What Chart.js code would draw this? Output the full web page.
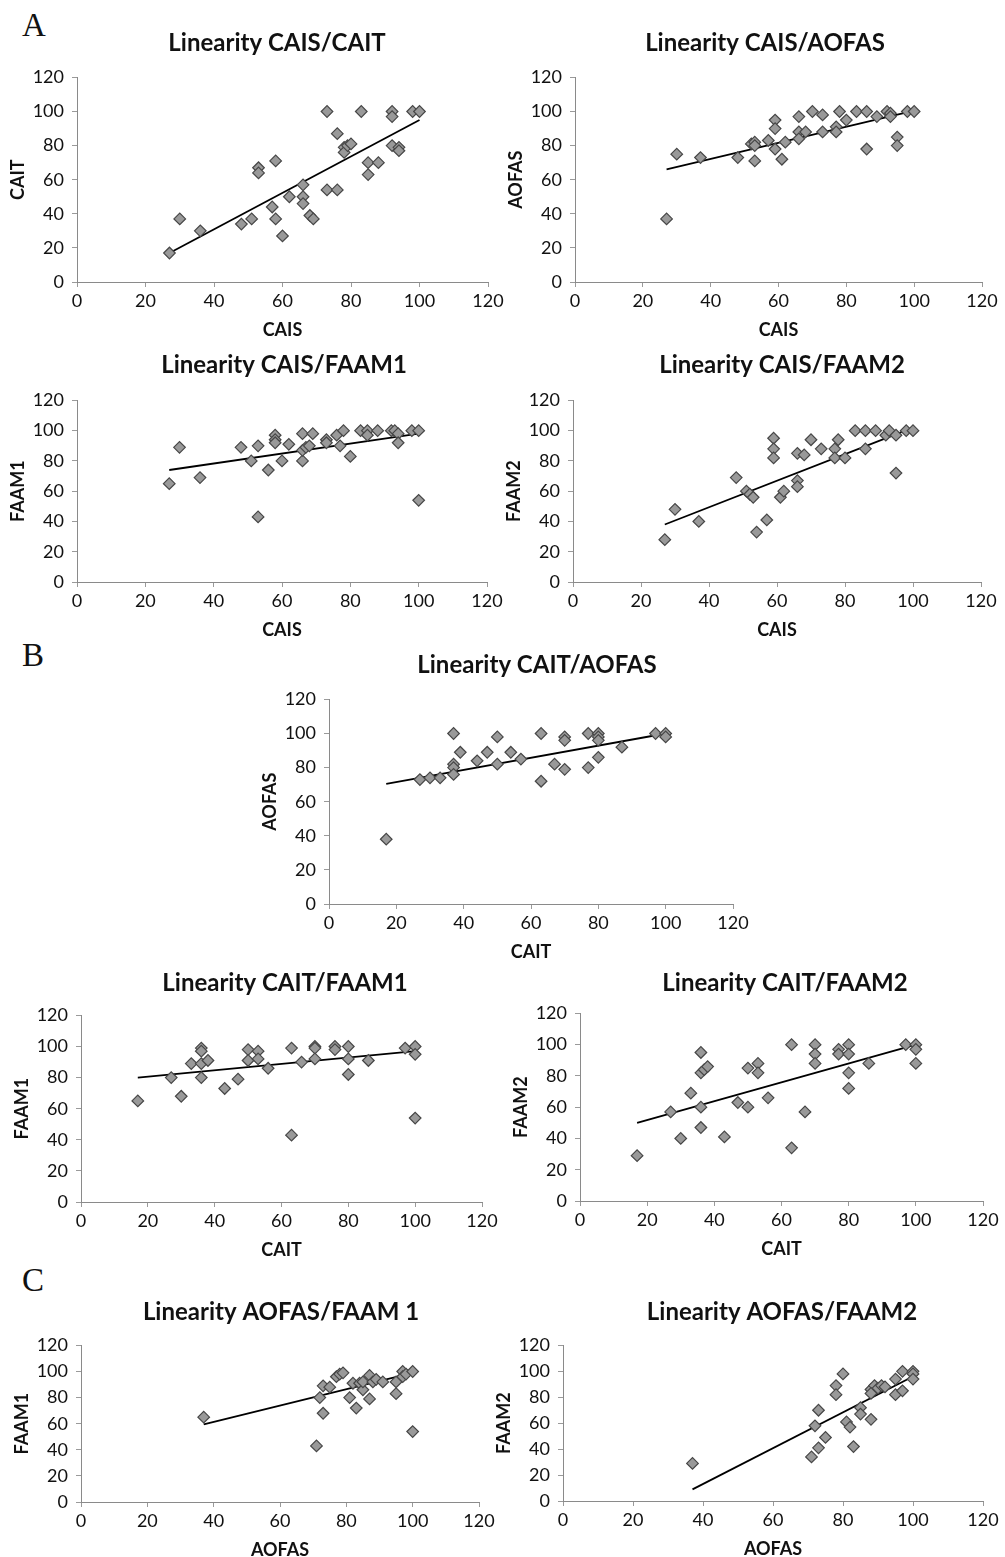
<!DOCTYPE html>
<html>
<head>
<meta charset="utf-8">
<script src="https://cdn.jsdelivr.net/npm/chart.js@4.4.0/dist/chart.umd.min.js"></script>
<style>
  html, body { margin: 0; padding: 0; background: #fff; overflow: hidden; }
  #page { position: relative; width: 1005px; height: 1557px; }
  .box { position: absolute; }
  .panel { position: absolute; left: 22px; font-family: "Liberation Serif", serif; font-size: 33px; line-height: 1; color: #111; }
</style>
</head>
<body>
<div id="page">
  <div class="panel" style="top:9px">A</div>
  <div class="panel" style="top:639px">B</div>
  <div class="panel" style="top:1264px">C</div>
</div>
<script>
// ---- valores (A: CAIS x outros) ----
const a1_cais = [27,30,36,48,51,53,53,58,57,58,60,62,66,66,66,68,69,73,73,76,76,78,78,79,80,83,85,85,88,92,92,92,94,94,98,100];
const a1_cait = [17,37,30,34,37,67,64,71,44,37,27,50,57,50,46,39,37,100,54,54,87,79,76,80,81,100,70,63,70,100,97,80,79,77,100,100];
const a1_fitX = [27, 100];
const a1_fitY = [17, 95];

const a2_cais  = [27,30,37,48,52,53,53,53,57,59,59,59,61,62,66,66,66,68,70,73,73,77,77,78,80,83,86,86,89,92,93,93,95,95,98,100];
const a2_aofas = [37,75,73,73,81,82,80,71,83,95,90,78,72,82,97,88,84,88,100,98,88,91,88,100,95,100,100,78,97,100,99,97,85,80,100,100];
const a2_fitX = [27, 100];
const a2_fitY = [66, 100.5];

const a3_cais  = [27,30,36,48,51,53,53,56,58,58,58,60,62,66,66,66,67,68,69,73,73,76,77,78,80,83,85,85,88,92,93,94,94,98,100,100];
const a3_faam1 = [65,89,69,89,80,90,43,74,97,94,92,80,91,98,80,87,89,90,98,94,92,97,90,100,83,100,100,97,100,100,100,98,92,100,100,54];
const a3_fitX = [27, 100];
const a3_fitY = [74, 98];

const a4_cais  = [27,30,37,48,51,52,53,54,57,59,59,59,61,62,66,68,66,66,70,73,77,77,78,80,83,86,86,89,92,93,95,95,98,100];
const a4_faam2 = [28,48,40,69,60,58,56,33,41,95,88,82,56,60,85,84,67,63,94,88,88,82,94,82,100,100,88,100,97,100,97,72,100,100];
const a4_fitX = [27, 100];
const a4_fitY = [38, 102];

// ---- B: CAIT x outros ----
const b1_cait  = [17,27,30,33,37,37,37,37,39,44,47,50,50,54,57,63,63,67,70,70,70,77,77,80,80,80,80,87,97,100,100];
const b1_aofas = [38,73,74,74,100,82,80,76,89,84,89,98,82,89,85,100,72,82,98,96,79,100,80,100,98,96,86,92,100,100,98];
const b1_fitX = [17, 100];
const b1_fitY = [70.5, 100];

const b2_cait  = [17,27,30,33,36,36,36,36,38,43,47,50,50,53,53,56,63,63,66,70,70,70,76,76,80,80,80,86,97,100,100,100];
const b2_faam1 = [65,80,68,89,99,97,89,80,91,73,79,98,91,97,92,86,99,43,90,100,99,92,100,98,100,92,82,91,99,100,95,54];
const b2_fitX = [17, 100];
const b2_fitY = [80, 97];

const b3_cait  = [17,27,30,33,36,36,37,38,36,36,43,47,50,50,53,53,56,63,63,67,70,70,70,77,77,80,80,80,80,86,97,100,100,100];
const b3_faam2 = [29,57,40,69,95,82,84,86,60,47,41,63,85,60,88,82,66,100,34,57,100,94,88,97,94,100,94,82,72,88,100,100,97,88];
const b3_fitX = [17, 100];
const b3_fitY = [50, 100];

// ---- C: AOFAS x FAAM ----
const c1_aofas = [37,71,72,73,73,75,77,78,79,81,82,83,84,85,85,87,87,88,89,91,95,95,97,97,98,100,100];
const c1_faam1 = [65,43,80,68,89,88,96,98,99,80,91,72,91,86,92,79,97,92,94,92,92,83,100,96,98,100,54];
const c1_fitX = [37, 100];
const c1_fitY = [59.5, 99];

const c2_aofas = [37,71,72,73,73,75,78,78,80,81,82,83,85,85,88,88,89,90,91,92,88,95,97,95,97,100,100,100];
const c2_faam2 = [29,34,58,70,41,49,89,82,98,61,57,42,72,67,63,86,89,87,89,88,83,94,100,82,85,100,98,94];
const c2_fitX = [37, 100];
const c2_fitY = [9, 96];

const yTicks = [0, 20, 40, 60, 80, 100, 120];

// posição de cada gráfico na página: área do gráfico e centro do título
const charts = [
  { title: 'Linearity CAIS/CAIT',    xl: 'CAIS',  yl: 'CAIT',  xs: a1_cais,  ys: a1_cait,  fx: a1_fitX, fy: a1_fitY, area: [77, 77, 488, 282],    tx: 277, ty: 43 },
  { title: 'Linearity CAIS/AOFAS',   xl: 'CAIS',  yl: 'AOFAS', xs: a2_cais,  ys: a2_aofas, fx: a2_fitX, fy: a2_fitY, area: [575, 77, 982, 282],   tx: 765, ty: 43 },
  { title: 'Linearity CAIS/FAAM1',   xl: 'CAIS',  yl: 'FAAM1', xs: a3_cais,  ys: a3_faam1, fx: a3_fitX, fy: a3_fitY, area: [77, 400, 487, 582],   tx: 284, ty: 365 },
  { title: 'Linearity CAIS/FAAM2',   xl: 'CAIS',  yl: 'FAAM2', xs: a4_cais,  ys: a4_faam2, fx: a4_fitX, fy: a4_fitY, area: [573, 400, 981, 582],  tx: 782, ty: 365 },
  { title: 'Linearity CAIT/AOFAS',   xl: 'CAIT',  yl: 'AOFAS', xs: b1_cait,  ys: b1_aofas, fx: b1_fitX, fy: b1_fitY, area: [329, 699, 733, 904],  tx: 537, ty: 665 },
  { title: 'Linearity CAIT/FAAM1',   xl: 'CAIT',  yl: 'FAAM1', xs: b2_cait,  ys: b2_faam1, fx: b2_fitX, fy: b2_fitY, area: [81, 1015, 482, 1202], tx: 285, ty: 983 },
  { title: 'Linearity CAIT/FAAM2',   xl: 'CAIT',  yl: 'FAAM2', xs: b3_cait,  ys: b3_faam2, fx: b3_fitX, fy: b3_fitY, area: [580, 1013, 983, 1201], tx: 785, ty: 983 },
  { title: 'Linearity AOFAS/FAAM 1', xl: 'AOFAS', yl: 'FAAM1', xs: c1_aofas, ys: c1_faam1, fx: c1_fitX, fy: c1_fitY, area: [81, 1345, 479, 1502], tx: 281, ty: 1312 },
  { title: 'Linearity AOFAS/FAAM2',  xl: 'AOFAS', yl: 'FAAM2', xs: c2_aofas, ys: c2_faam2, fx: c2_fitX, fy: c2_fitY, area: [563, 1345, 983, 1501], tx: 782, ty: 1312 }
];

const Y_AXIS_W = 72;
const X_AXIS_H = 61;
const TITLE_SIZE = 24;
const FONT = 'Lato, "Open Sans", sans-serif';

function toPoints(xs, ys) {
  return xs.map((x, i) => ({ x: x, y: ys[i] }));
}

function drawChart(c) {
  const [left, top, right, bottom] = c.area;
  const boxLeft = left - Y_AXIS_W;
  const boxTop = c.ty - (4 + TITLE_SIZE * 1.2 / 2);
  const boxW = Math.round(2 * (c.tx - boxLeft));
  const boxH = Math.round(bottom + X_AXIS_H - boxTop);
  const titleBottom = top - boxTop - 4 - TITLE_SIZE * 1.2;
  // espaço vazio à direita (eixo invisível) para o título ficar centrado como no original
  const rightGap = boxW - (right - boxLeft);

  const div = document.createElement('div');
  div.className = 'box';
  div.style.left = boxLeft + 'px';
  div.style.top = boxTop + 'px';
  const canvas = document.createElement('canvas');
  canvas.width = boxW;
  canvas.height = boxH;
  div.appendChild(canvas);
  document.getElementById('page').appendChild(div);

  const axisCommon = {
    type: 'linear',
    min: 0,
    max: 120,
    grid: { display: true, drawOnChartArea: false, drawTicks: true, tickLength: 5, color: '#9a9a9a' },
    border: { display: true, color: '#8a8a8a', width: 1, dash: [2, 1] }
  };

  new Chart(canvas.getContext('2d'), {
    type: 'scatter',
    data: {
      datasets: [
        {
          data: toPoints(c.xs, c.ys),
          pointStyle: 'rectRot',
          pointRadius: 5.8,
          backgroundColor: '#999999',
          borderColor: '#474747',
          borderWidth: 1.2
        },
        {
          data: toPoints(c.fx, c.fy),
          showLine: true,
          pointRadius: 0,
          borderColor: '#000',
          borderWidth: 1.8
        }
      ]
    },
    options: {
      responsive: false,
      animation: false,
      layout: { padding: 0 },
      plugins: {
        legend: { display: false },
        tooltip: { enabled: false },
        title: {
          display: true,
          text: c.title,
          color: '#111',
          font: { family: FONT, size: TITLE_SIZE, weight: 'bold', lineHeight: 1.2 },
          padding: { top: 4, bottom: titleBottom }
        }
      },
      scales: {
        x: Object.assign({}, axisCommon, {
          position: 'bottom',
          ticks: { stepSize: 20, color: '#111', padding: 3, font: { family: FONT, size: 18 } },
          title: { display: true, text: c.xl, color: '#111', font: { family: FONT, size: 18, weight: 'bold', lineHeight: 1.2 }, padding: { top: 0, bottom: 2 } },
          afterFit: (s) => { s.height = X_AXIS_H; }
        }),
        y: Object.assign({}, axisCommon, {
          position: 'left',
          afterBuildTicks: (s) => { s.ticks = yTicks.map(v => ({ value: v })); },
          ticks: { color: '#111', padding: 8, font: { family: FONT, size: 18 } },
          title: { display: true, text: c.yl, color: '#111', font: { family: FONT, size: 18, weight: 'bold', lineHeight: 1.2 }, padding: { top: 2, bottom: 0 } },
          afterFit: (s) => { s.width = Y_AXIS_W; }
        }),
        gap: {
          type: 'linear',
          position: 'right',
          display: true,
          grid: { display: false, drawTicks: false },
          border: { display: false },
          ticks: { display: false },
          afterFit: (s) => { s.width = rightGap; }
        }
      }
    }
  });
}

charts.forEach(drawChart);
</script>
</body>
</html>
